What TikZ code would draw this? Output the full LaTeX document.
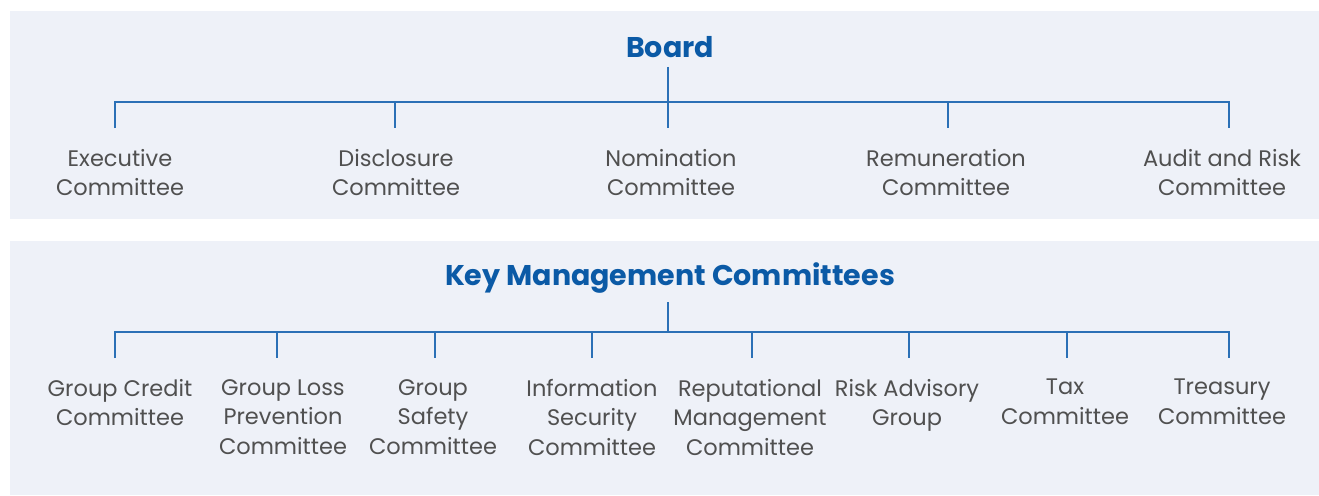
\documentclass[tikz,border=0pt]{standalone}
\usepackage{fontspec}
\setmainfont{Poppins}
\usetikzlibrary{positioning}
\definecolor{panelbg}{HTML}{EEF1F8}
\definecolor{linkblue}{HTML}{2B70B6}
\definecolor{headblue}{HTML}{0B5AA6}
\definecolor{labelgray}{HTML}{505050}
\tikzstyle{heading} = [text=headblue, font=\fontsize{28.5}{32}\selectfont\bfseries, anchor=base]
\tikzstyle{member} = [text=labelgray, align=center, anchor=north, inner sep=0pt,
	font=\fontsize{22.5}{29.5}\selectfont, execute at begin node=\strut]
\tikzstyle{link} = [draw=linkblue, line width=1.4pt]

\begin{document}
\begin{tikzpicture}[x=1pt, y=-1pt]
	\useasboundingbox (0,0) rectangle (1319,495);
	% panels
	\fill [panelbg] (10,11) rectangle (1319,219);
	\fill [panelbg] (10,241) rectangle (1319,495);

	% board and its committees
	\node [heading] (board) at (670,57) {Board};
	\node [member] (exec)  at (120,149)  {Executive\\Committee};
	\node [member] (disc)  at (396,149)  {Disclosure\\Committee};
	\node [member] (nom)   at (671,149)  {Nomination\\Committee};
	\node [member] (rem)   at (946,149)  {Remuneration\\Committee};
	\node [member] (audit) at (1222,149) {Audit and Risk\\Committee};

	% key management committees
	\node [heading] (kmc) at (670,285) {Key Management Committees};
	\node [member] (credit)  at (120,379)  {Group Credit\\Committee};
	\node [member] (loss)    at (283,379)  {Group Loss\\Prevention\\Committee};
	\node [member] (safety)  at (433,379)  {Group\\Safety\\Committee};
	\node [member] (infosec) at (592,379)  {Information\\Security\\Committee};
	\node [member] (reput)   at (750,379)  {Reputational\\Management\\Committee};
	\node [member] (risk)    at (907,379)  {Risk Advisory\\Group};
	\node [member] (tax)     at (1065,379) {Tax\\Committee};
	\node [member] (treas)   at (1222,379) {Treasury\\Committee};

	% drop points
	\coordinate (bus1) at (668,102);
	\foreach \n/\x in {exec/115, disc/395, nom/668, rem/948, audit/1229}
		\coordinate (\n-top) at (\x,128);
	\coordinate (bus2) at (668,332);
	\foreach \n/\x in {credit/115, loss/277, safety/435, infosec/592, reput/752, risk/909, tax/1067, treas/1229}
		\coordinate (\n-top) at (\x,358);

	% draw edges
	\path [link] ([yshift=-6pt]board.south -| nom-top) -- (nom-top);
	\path [link] (exec-top) -- (exec-top |- bus1) -- (audit-top |- bus1) -- (audit-top);
	\foreach \n in {disc, rem}
		\path [link] (\n-top |- bus1) -- (\n-top);

	\path [link] ([yshift=-6pt]kmc.south -| bus2) -- (bus2);
	\path [link] (credit-top) -- (credit-top |- bus2) -- (treas-top |- bus2) -- (treas-top);
	\foreach \n in {loss, safety, infosec, reput, risk, tax}
		\path [link] (\n-top |- bus2) -- (\n-top);
\end{tikzpicture}
\end{document}
